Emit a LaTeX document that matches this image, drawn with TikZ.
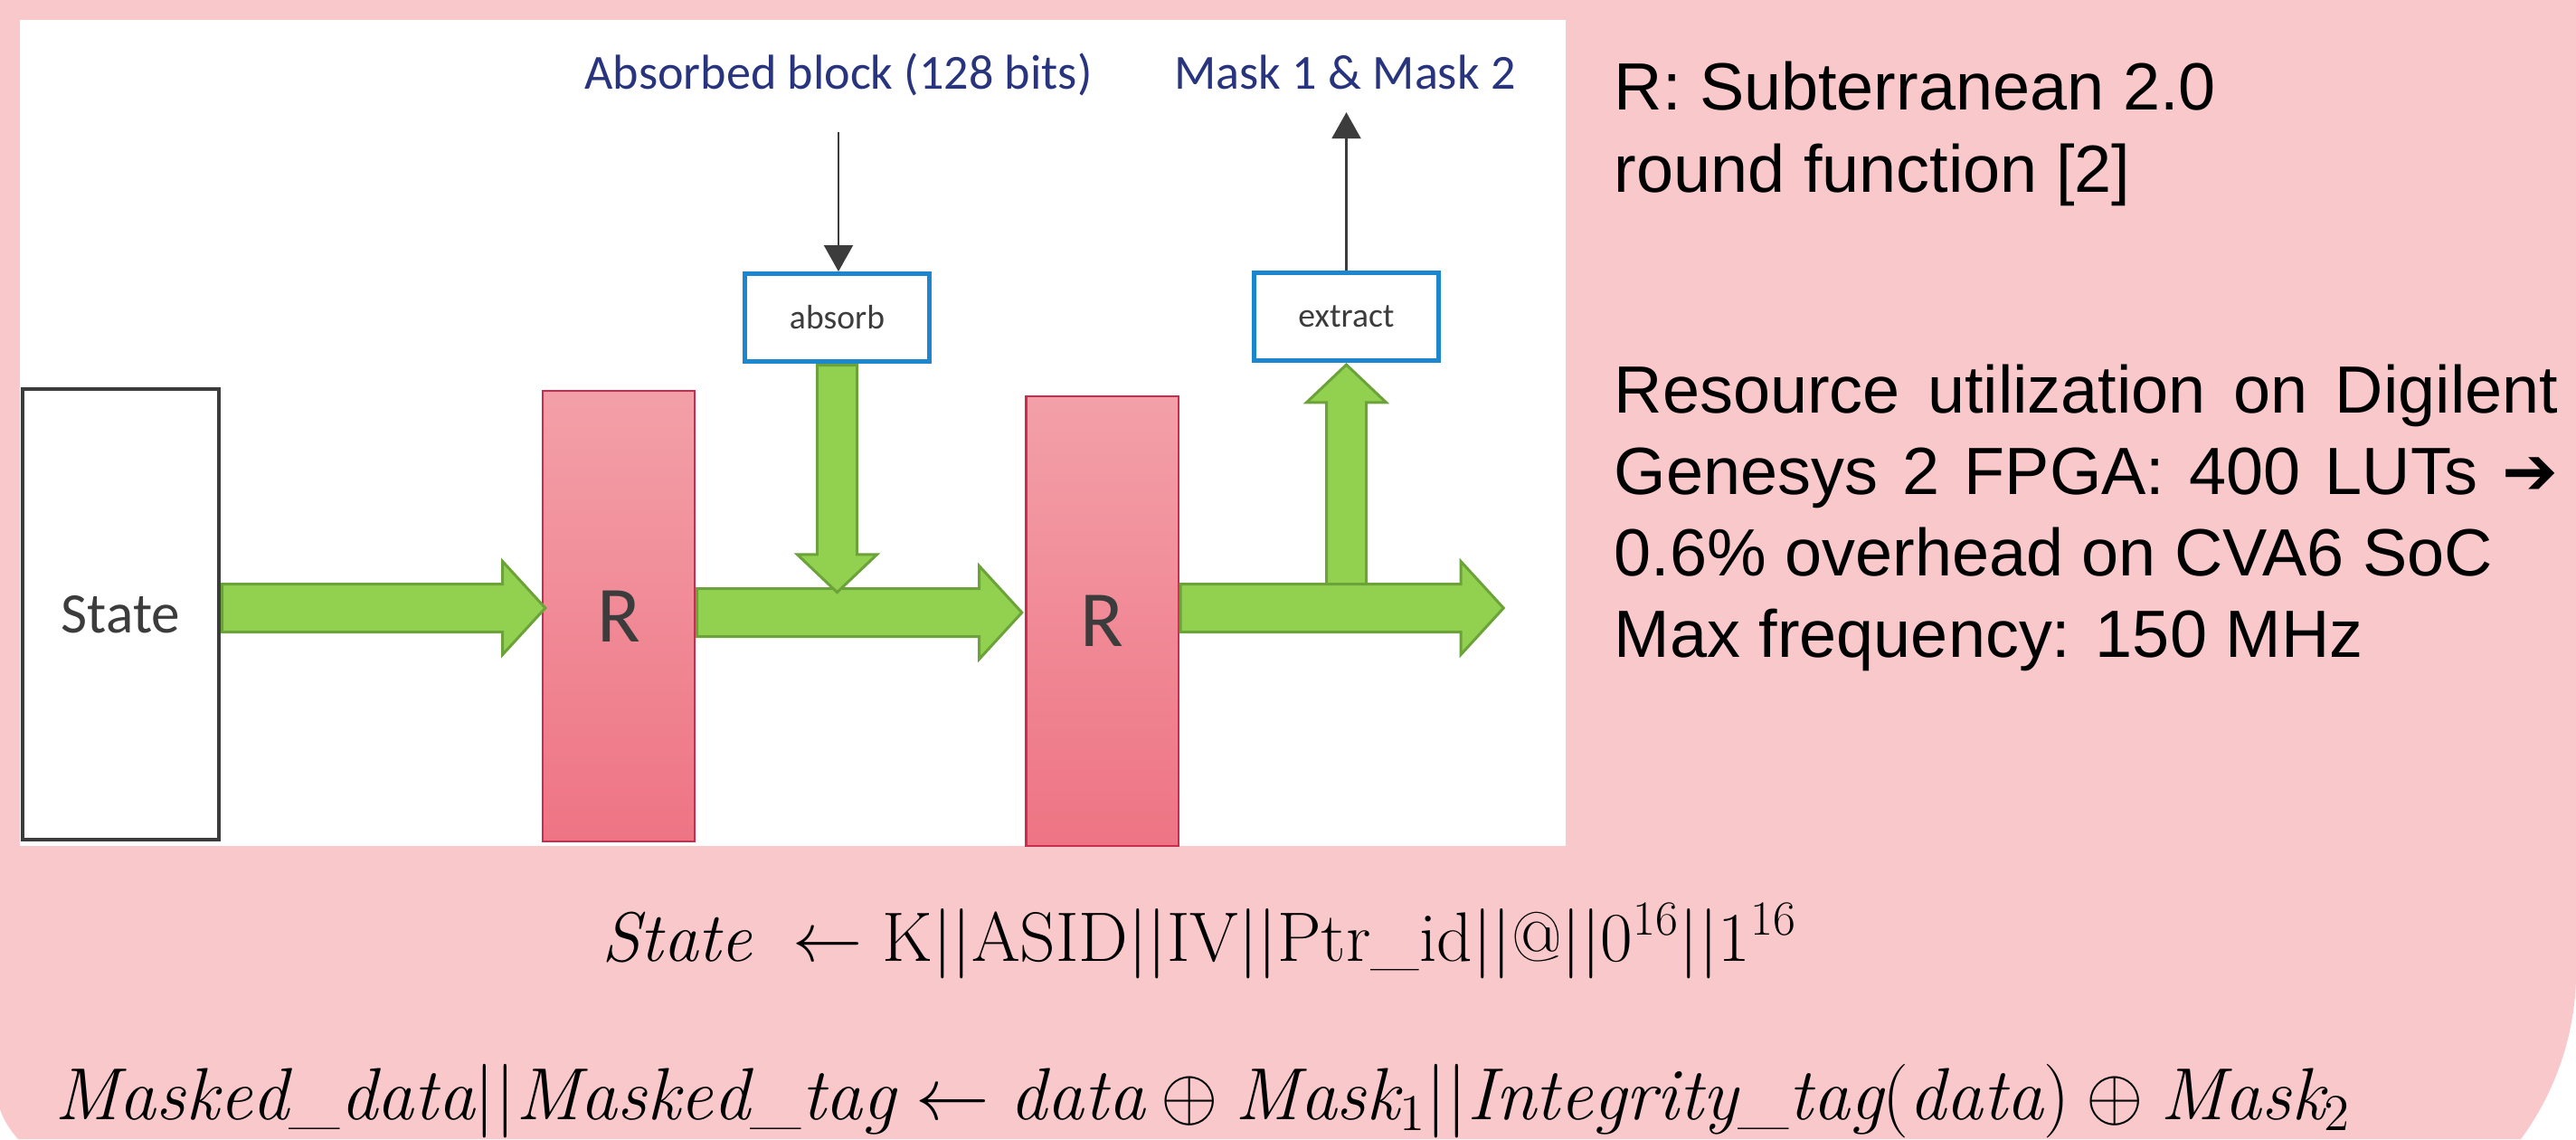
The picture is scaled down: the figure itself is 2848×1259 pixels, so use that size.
\RequirePackage{fix-cm}
\documentclass[tikz,border=0pt]{standalone}
\usepackage{fontspec}
\usepackage{amsmath}
\usetikzlibrary{positioning, arrows.meta, shapes.arrows}

\newfontfamily\calibri{Carlito}
\newfontfamily\arial{Liberation Sans}
\newfontfamily\dingfont{DejaVu Sans}

\definecolor{slidepink}{RGB}{248,200,203}
\definecolor{roundtop}{RGB}{243,160,168}
\definecolor{roundbot}{RGB}{238,116,132}
\definecolor{roundedge}{RGB}{200,45,80}
\definecolor{arrowfill}{RGB}{146,208,80}
\definecolor{arrowedge}{RGB}{108,162,58}
\definecolor{boxblue}{RGB}{28,134,206}
\definecolor{labelnavy}{RGB}{40,52,125}
\definecolor{darkgrey}{RGB}{60,60,60}

\tikzset{
	statebox/.style={draw=darkgrey, line width=1.2pt, fill=white, minimum width=2.17cm, minimum height=4.98cm, font=\calibri\fontsize{18}{20}\selectfont, text=darkgrey},
	roundbox/.style={draw=roundedge, line width=0.6pt, top color=roundtop, bottom color=roundbot, minimum width=1.68cm, minimum height=4.97cm, font=\calibri\fontsize{25}{28}\selectfont, text=darkgrey},
	opbox/.style={draw=boxblue, line width=1.4pt, fill=white, minimum width=2.03cm, minimum height=0.97cm, font=\calibri\fontsize{10.7}{12}\selectfont, text=darkgrey},
	toplabel/.style={inner sep=0pt, anchor=base, font=\calibri\fontsize{15.4}{18}\selectfont, text=labelnavy},
	fat/.style={single arrow, draw=arrowedge, fill=arrowfill, line width=0.85pt, inner xsep=0pt, inner ysep=0.25cm, single arrow tip angle=95, minimum width=1cm, single arrow head extend=0.25cm},
	slim/.style={single arrow, draw=arrowedge, fill=arrowfill, line width=0.85pt, inner xsep=0pt, inner ysep=0.205cm, single arrow tip angle=93, minimum width=0.85cm, single arrow head extend=0.22cm},
	feed/.style={draw=darkgrey, line width=0.6pt, -{Triangle[length=0.29cm, width=0.32cm]}},
	note/.style={inner sep=0pt, anchor=base west, font=\arial\fontsize{21}{25.6}\selectfont},
	formula/.style={inner sep=0pt, anchor=base},
}

\begin{document}
\begin{tikzpicture}[x=0.01cm, y=-0.01cm]
	% slide background with the rounded lower corners
	\fill[white] (0,0) rectangle (2848,1259);
	\useasboundingbox (0,0) rectangle (2848,1259);
	\fill[slidepink] (0,0) -- (2848,0) -- (2848,1075) .. controls (2848,1141) and (2826,1206) .. (2787,1259)
		-- (20,1259) .. controls (12,1250) and (5,1240) .. (0,1226) -- cycle;
	\fill[white] (22,22) rectangle (1731,935);

	% the sponge
	\node[statebox] (state) at (133.5,679) {State};
	\node[roundbox] (r1) at (684,681) {R};
	\node[roundbox] (r2) at (1218.5,686.5) {R};
	\node[opbox] (absorb) at (925.5,351) {absorb};
	\node[opbox] (extract) at (1488.5,350) {extract};

	\node[fat, anchor=tail, minimum height=3.57cm] (a1) at (state.east |- 0,672) {};
	\node[fat, anchor=tail, minimum height=3.59cm] (a2) at (r1.east |- 0,677) {};
	\node[slim, anchor=tail, rotate=-90, minimum height=2.51cm] (down) at (absorb.south) {};
	\node[slim, anchor=tip, rotate=90, minimum height=2.48cm] (up) at (extract.south) {};
	\node[fat, anchor=tail, minimum height=3.57cm] (a3) at (r2.east |- 0,672) {};

	\node[toplabel] (blocklbl) at (927,98) {Absorbed block (128 bits)};
	\node[toplabel] (masklbl) at (1487,98) {Mask 1 \& Mask 2};
	\draw[feed, shorten <=0.4cm] (blocklbl.south) -- (blocklbl.south |- absorb.north);
	\draw[feed, shorten >=0.25cm] (extract.north) -- (extract.north |- masklbl.south);

	% notes
	\node[note, align=left] (rinfo) at (1784,212) {R: Subterranean 2.0\\round function [2]};
	\node[note, text width=10.43cm, align=justify] (usage) at (1784,456)
		{Resource utilization on Digilent\linebreak Genesys 2 FPGA: 400 LUTs {\dingfont\bfseries ➔}\linebreak 0.6\% overhead on CVA6 SoC\\Max frequency: 150 MHz};

	\node[formula, font=\fontsize{22}{26}\selectfont] (statefml) at (1326,1062)
		{$\mathit{State}\ \leftarrow \mathrm{K||ASID||IV||Ptr\_id||@||0^{16}||1^{16}}$};
	\node[formula, font=\fontsize{23.2}{28}\selectfont] (maskfml) at (1330,1237)
		{$\mathit{Masked\_data}||\mathit{Masked\_tag} \leftarrow \mathit{data} \oplus \mathit{Mask}_1||\mathit{Integrity\_tag}(\mathit{data}) \oplus \mathit{Mask}_2$};
\end{tikzpicture}
\end{document}
